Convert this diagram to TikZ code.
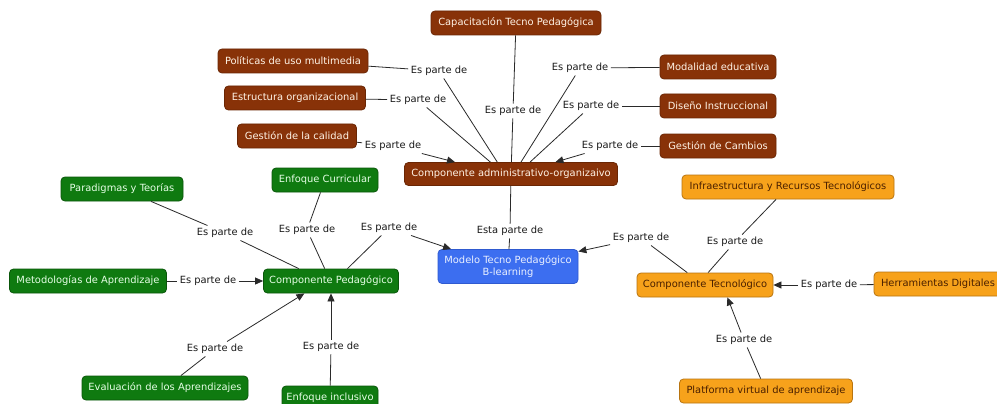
\documentclass[tikz,border=0pt]{standalone}
\usepackage{fontspec}
\setmainfont{DejaVu Sans}
\usetikzlibrary{arrows.meta}
\definecolor{brownf}{HTML}{883208}
\definecolor{brownd}{HTML}{6A2604}
\definecolor{brownt}{HTML}{FFF3E6}
\definecolor{greenf}{HTML}{0F7A10}
\definecolor{greend}{HTML}{0A560A}
\definecolor{greent}{HTML}{E6FFE6}
\definecolor{bluef}{HTML}{3C6EF0}
\definecolor{blued}{HTML}{2F5AD0}
\definecolor{bluet}{HTML}{EAF0FF}
\definecolor{orangef}{HTML}{F7A21B}
\definecolor{oranged}{HTML}{B87410}
\definecolor{oranget}{HTML}{4A2000}
\definecolor{linec}{HTML}{2A2A2A}
\begin{document}
\begin{tikzpicture}[x=1pt,y=-1pt,
  font=\fontsize{9.9}{11.5}\selectfont,
  box/.style={rounded corners=4pt, line width=0.8pt, minimum height=24pt, inner sep=2pt, align=center},
  bbox/.style={box, fill=brownf, draw=brownd, text=brownt},
  gbox/.style={box, fill=greenf, draw=greend, text=greent},
  obox/.style={box, fill=orangef, draw=oranged, text=oranget},
  lbox/.style={box, fill=bluef, draw=blued, text=bluet, minimum height=34pt},
  lab/.style={inner sep=2.5pt, text=black!90},
  conn/.style={draw=linec, line width=0.8pt},
  arr/.style={conn, -{Triangle[length=8pt,width=7pt]}}
]
\useasboundingbox (0,0) rectangle (997,404);
\fill[white] (0,0) rectangle (997,404);
\clip (0,0) rectangle (997,404);

% brown nodes
\node[bbox, minimum width=170pt] (cap) at (516,23) {Capacitación Tecno Pedagógica};
\node[bbox, minimum width=150pt] (pol) at (293,61) {Políticas de uso multimedia};
\node[bbox, minimum width=141pt] (est) at (295,98) {Estructura organizacional};
\node[bbox, minimum width=119pt] (cal) at (297,136) {Gestión de la calidad};
\node[bbox, minimum width=116pt] (mod) at (718,67) {Modalidad educativa};
\node[bbox, minimum width=116pt] (dis) at (718,106) {Diseño Instruccional};
\node[bbox, minimum width=116pt] (cam) at (718,146) {Gestión de Cambios};
\node[bbox, minimum width=213pt, minimum height=23pt] (adm) at (511,174) {Componente administrativo-organizaivo};

% blue
\node[lbox, minimum width=140pt] (model) at (508,266.5) {Modelo Tecno Pedagógico\\B-learning};

% green nodes
\node[gbox, minimum width=122pt] (par) at (122,189) {Paradigmas y Teorías};
\node[gbox, minimum width=106pt] (cur) at (325,180) {Enfoque Curricular};
\node[gbox, minimum width=157pt] (met) at (88,281) {Metodologías de Aprendizaje};
\node[gbox, minimum width=135pt] (cp) at (331,281) {Componente Pedagógico};
\node[gbox, minimum width=166pt] (eva) at (165,388) {Evaluación de los Aprendizajes};
\node[gbox, minimum width=96pt] (inc) at (330,398) {Enfoque inclusivo};

% orange nodes
\node[obox, minimum width=212pt] (inf) at (788,187) {Infraestructura y Recursos Tecnológicos};
\node[obox, minimum width=136pt] (ct) at (705,285) {Componente Tecnológico};
\node[obox, minimum width=128pt] (her) at (938,284) {Herramientas Digitales};
\node[obox, minimum width=173pt] (pla) at (766,391) {Platforma virtual de aprendizaje};

% labels
\node[lab] (lpol) at (439,71) {Es parte de};
\node[lab] (lest) at (418,100) {Es parte de};
\node[lab] (lcal) at (393,146) {Es parte de};
\node[lab] (lcap) at (513,111) {Es parte de};
\node[lab] (lmod) at (580,68) {Es parte de};
\node[lab] (ldis) at (591,106) {Es parte de};
\node[lab] (lcam) at (610,146) {Es parte de};
\node[lab] (lesta) at (510,231) {Esta parte de};
\node[lab] (lpar) at (225,233) {Es parte de};
\node[lab] (lcur) at (307,230) {Es parte de};
\node[lab] (lcp) at (389,228) {Es parte de};
\node[lab] (lmet) at (208,281) {Es parte de};
\node[lab] (leva) at (215,349) {Es parte de};
\node[lab] (linc) at (331,347) {Es parte de};
\node[lab] (lct) at (641,238) {Es parte de};
\node[lab] (linf) at (735,242) {Es parte de};
\node[lab] (lher) at (829,285) {Es parte de};
\node[lab] (lpla) at (744,340) {Es parte de};

% brown connectors
\draw[conn] (pol) -- (lpol);
\draw[conn] (lpol) -- (adm.139);
\draw[conn] (est) -- (lest);
\draw[conn] (lest) -- (adm.150);
\draw[conn] (cal) -- (lcal);
\draw[arr] (lcal) -- (adm.168);
\draw[conn] (cap) -- (lcap);
\draw[conn] (lcap) -- (adm.88);
\draw[conn] (mod) -- (lmod);
\draw[conn] (lmod) -- (adm.50);
\draw[conn] (dis) -- (ldis);
\draw[conn] (ldis) -- (adm.32);
\draw[conn] (cam) -- (lcam);
\draw[arr] (lcam) -- (adm.15);
\draw[conn] (adm) -- (lesta);
\draw[conn] (lesta) -- (model);

% green connectors
\draw[conn] (par) -- (lpar);
\draw[conn] (lpar) -- (cp.159);
\draw[conn] (cur) -- (lcur);
\draw[conn] (lcur) -- (cp.117);
\draw[conn] (cp.37) -- (lcp);
\draw[arr] (lcp) -- (model.163);
\draw[conn] (met) -- (lmet);
\draw[arr] (lmet) -- (cp);
\draw[conn] (eva) -- (leva);
\draw[arr] (leva) -- (cp.205);
\draw[conn] (inc) -- (linc);
\draw[arr] (linc) -- (cp.270);

% orange connectors
\draw[conn] (ct.145) -- (lct);
\draw[arr] (lct) -- (model);
\draw[conn] (inf) -- (linf);
\draw[conn] (linf) -- (ct.76);
\draw[conn] (her) -- (lher);
\draw[arr] (lher) -- (ct);
\draw[conn] (pla) -- (lpla);
\draw[arr] (lpla) -- (ct.331);
\end{tikzpicture}
\end{document}
